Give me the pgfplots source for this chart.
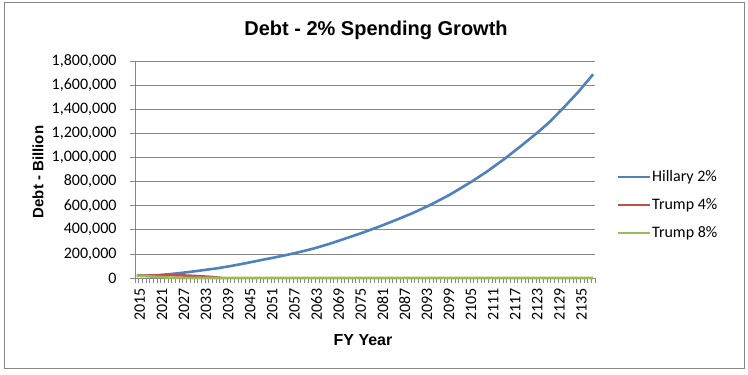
\documentclass[border=0pt]{standalone}
\usepackage{fontspec}
\setmainfont{Carlito}
\newfontfamily\arial{Liberation Sans}
\usepackage{pgfplots}
\pgfplotsset{compat=1.18}
\definecolor{cblue}{HTML}{4F81BD}
\definecolor{cred}{HTML}{C0504D}
\definecolor{cgreen}{HTML}{9BBB59}
\definecolor{cgrid}{HTML}{878787}
\begin{document}
\begin{tikzpicture}[x=1pt,y=1pt]
\path[use as bounding box] (0,0) rectangle (748,375);
\draw[cgrid, line width=1pt] (4,6) rectangle (744,372);
\node[font=\arial\bfseries\fontsize{20}{23}\selectfont] at (376,345) {Debt - 2\% Spending Growth};
\node[font=\arial\bfseries\fontsize{16}{19}\selectfont] at (363,35) {FY Year};
\node[font=\arial\bfseries\fontsize{15}{18}\selectfont, rotate=90] at (38,203) {Debt - Billion};
\begin{axis}[
  at={(135pt,97pt)}, anchor=south west, scale only axis,
  width=460pt, height=217pt,
  xmin=2014.5, xmax=2139.5, ymin=0, ymax=1800000,
  axis x line*=bottom, axis y line*=left,
  axis line style={cgrid, line width=0.75pt},
  ytick={0,200000,400000,600000,800000,1000000,1200000,1400000,1600000,1800000},
  ymajorgrids, grid style={cgrid, line width=0.75pt},
  xtick={2014.5,2015.5,...,2139.5}, xticklabels={},
  extra x ticks={2015,2021,2027,2033,2039,2045,2051,2057,2063,2069,2075,2081,2087,2093,2099,2105,2111,2117,2123,2129,2135},
  extra x tick labels={2015,2021,2027,2033,2039,2045,2051,2057,2063,2069,2075,2081,2087,2093,2099,2105,2111,2117,2123,2129,2135},
  extra x tick style={major tick length=0pt, grid=none, xticklabel style={rotate=90, anchor=east, xshift=-7pt, yshift=-3pt}},
  tick align=outside, major tick length=5pt,
  tick style={cgrid, line width=0.75pt},
  scaled y ticks=false,
  /pgf/number format/assume math mode=true,
  yticklabel style={xshift=-10pt, /pgf/number format/.cd, fixed, 1000 sep={,}, precision=0},
  tick label style={font=\fontsize{16}{19}\selectfont, text=black},
  clip=false,
  legend style={at={(1.04,0.336)}, anchor=west, draw=none, fill=none,
    font=\fontsize{16}{19}\selectfont, row sep=12pt,
    nodes={inner sep=1pt, text height=11pt, text depth=3pt},
    cells={anchor=west}},
  legend image code/.code={\draw[#1] (0pt,0pt) -- (32pt,0pt);},
]
\addplot[cblue, line width=2.6pt] coordinates {
(2015,19000) (2018,20000) (2021,24000) (2024,32000) (2027,42000) (2030,53000)
(2033,65000) (2037,81000) (2041,102000) (2045,125000) (2049,150000) (2054,180000)
(2057,200000) (2060,221000) (2063,244000) (2067,280000) (2072,331000) (2076,372000)
(2081,428000) (2085,476000) (2090,539000) (2095,610000) (2100,690000) (2106,800000)
(2110,880000) (2115,990000) (2120,1110000) (2124,1210000) (2127,1290000) (2131,1414000)
(2135,1545000) (2139,1690000)
};
\addlegendentry{Hillary 2\%}
\addplot[cred, line width=2.6pt] coordinates {
(2015,19000) (2018,20000) (2021,22000) (2024,24000) (2027,22000) (2030,18000)
(2033,13000) (2036,7000) (2038,0)
};
\addlegendentry{Trump 4\%}
\addplot[cgreen, line width=2.6pt] coordinates {
(2015,19000) (2018,14000) (2021,8000) (2024,3000) (2027,0) (2040,0) (2060,0)
(2080,0) (2100,0) (2120,0) (2139,0)
};
\addlegendentry{Trump 8\%}
\end{axis}
\end{tikzpicture}
\end{document}
